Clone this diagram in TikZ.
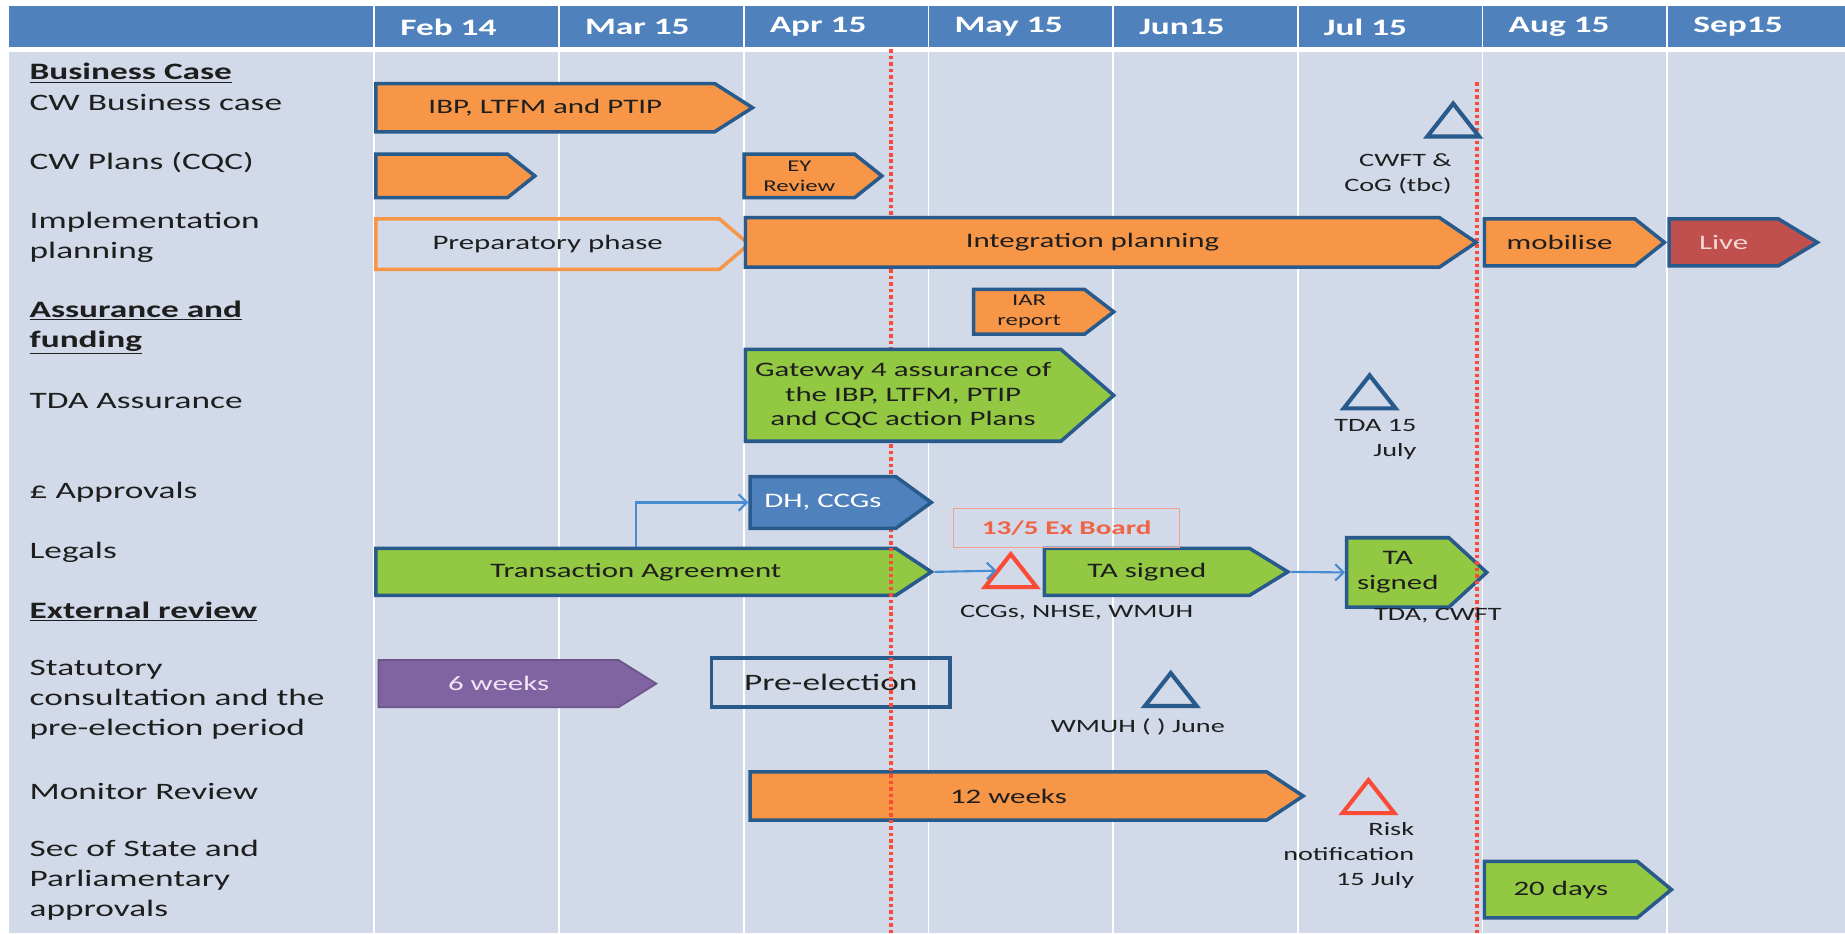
\documentclass[tikz,border=0pt]{standalone}
\usepackage{fontspec}
\setmainfont{Carlito}[FakeStretch=1.5]
\usetikzlibrary{shapes.symbols,arrows.meta}

\definecolor{hdrblue}{RGB}{79,129,189}
\definecolor{bodybg}{RGB}{210,217,232}
\definecolor{edgeblue}{RGB}{40,90,140}
\definecolor{barorange}{RGB}{247,150,70}
\definecolor{bargreen}{RGB}{146,200,66}
\definecolor{barblue}{RGB}{79,129,189}
\definecolor{barpurple}{RGB}{128,100,162}
\definecolor{barred}{RGB}{192,80,77}
\definecolor{linkblue}{RGB}{70,140,210}
\definecolor{dotred}{RGB}{250,75,55}
\definecolor{txt}{RGB}{30,30,30}

\tikzset{
  lbl/.style={anchor=west,align=left,text=txt,inner sep=0pt,font=\fontsize{20}{25.5}\selectfont},
  month/.style={anchor=west,text=white,inner sep=0pt,font=\bfseries\fontsize{20}{24}\selectfont},
  bar/.style={signal,signal to=east,signal pointer angle=70,draw=edgeblue,line width=3pt,
    anchor=west,inner sep=0pt,align=center,text=txt,font=\fontsize{17.5}{21}\selectfont},
  orangebar/.style={bar,fill=barorange},
  greenbar/.style={bar,fill=bargreen},
  small/.style={font=\fontsize{14}{17}\selectfont},
  note/.style={align=right,text=txt,inner sep=0pt,font=\fontsize{16}{21}\selectfont},
  link/.style={draw=linkblue,line width=1.8pt,-{Straight Barb[length=7pt,width=14pt]}},
  cutoff/.style={draw=dotred,line width=3.5pt,dash pattern=on 3pt off 2.5pt}
}

\begin{document}
\begin{tikzpicture}[x=1pt,y=-1pt]
\useasboundingbox (0,0) rectangle (1568,793);
\fill[white] (0,0) rectangle (1568,793);
\fill[hdrblue] (8,5) rectangle (1568,40);
\fill[bodybg] (8,44) rectangle (1568,793);
\foreach \i in {0,...,7}
  \draw[white,line width=1.5pt] ({318+157*\i},5) -- ({318+157*\i},793);

\def\months{1/{Feb 14},2/{Mar 15},3/{Apr 15},4/{May 15},5/{Jun15},6/{Jul 15},7/{Aug 15},8/{Sep15}}
\foreach \i / \m in \months
  \node[month] (h\i) at ({318+157*(\i-1)+22},23) {\m};

\def\rows{62/{\textbf{\underline{Business Case}}},87/{CW Business case},138/{CW Plans (CQC)},
  201.5/{Implementation\\planning},278.5/{\textbf{\underline{Assurance and}}\\\textbf{\underline{funding}}},
  341/{TDA Assurance},418/{£ Approvals},469/{Legals},520/{\textbf{\underline{External review}}},
  595/{Statutory\\consultation and the\\pre-election period},673/{Monitor  Review},
  748/{Sec of State and\\Parliamentary\\approvals}}
\foreach \y / \t [count=\i] in \rows
  \node[lbl] (r\i) at (25,\y) {\t};

\node[greenbar,minimum width=472pt,minimum height=40pt,signal pointer angle=67] (ta) at (318,486) {Transaction Agreement};
\node[greenbar,minimum width=207pt,minimum height=40pt,signal pointer angle=63] (tas) at (886,486) {TA signed};
\node[greenbar,minimum width=119pt,minimum height=59pt,signal pointer angle=85] (tas2) at (1143,486.5) {TA\\signed};
\node[draw=edgeblue,line width=3pt,minimum width=203pt,minimum height=42pt,anchor=west,inner sep=0pt,
  text=txt,font=\fontsize{20}{24}\selectfont] (pre) at (603,580) {Pre-election};
\node[orangebar,minimum width=470pt,minimum height=41pt,signal pointer angle=67] (twelve) at (636,676.5) {12 weeks};

\draw[cutoff] (757,42) -- (757,793);
\draw[cutoff] (1255,70) -- (1255,793);

\node[orangebar,minimum width=320pt,minimum height=41pt,signal pointer angle=65] (ibp) at (318,91.5) {IBP, LTFM and PTIP};
\node[orangebar,minimum width=135pt,minimum height=37pt,signal pointer angle=77] (cwp) at (318,149.5) {};
\node[orangebar,minimum width=117pt,minimum height=37pt,signal pointer angle=77,small] (ey) at (631,149.5) {EY\\Review};
\node[bar,draw=barorange,minimum width=317pt,minimum height=43pt,signal pointer angle=81] (prep) at (318,207.5) {Preparatory phase};
\node[orangebar,minimum width=621pt,minimum height=42pt,signal pointer angle=68] (integ) at (632,206) {Integration planning};
\node[orangebar,minimum width=153pt,minimum height=40pt,signal pointer angle=77] (mob) at (1260,206) {mobilise};
\node[bar,fill=barred,text={rgb,255:red,242;green,215;blue,214},minimum width=126pt,minimum height=40pt,signal pointer angle=62] (live) at (1417,206) {Live};
\node[orangebar,minimum width=119pt,minimum height=38pt,signal pointer angle=75,small] (iar) at (826,265) {IAR\\report};
\node[greenbar,minimum width=313pt,minimum height=78pt,signal pointer angle=82] (gw) at (632,336) {Gateway 4 assurance of\\the  IBP, LTFM,  PTIP\\and CQC action Plans};
\node[bar,fill=barblue,text=white,minimum width=154pt,minimum height=44pt,signal pointer angle=72] (dh) at (636,427) {DH, CCGs};
\node[bar,fill=barpurple,draw=barpurple!85!black,line width=1.5pt,text={rgb,255:red,240;green,228;blue,245},minimum width=236pt,minimum height=40pt,signal pointer angle=64] (sixw) at (321,581) {6  weeks};
\node[greenbar,minimum width=159pt,minimum height=48pt,signal pointer angle=79] (twenty) at (1260,756) {20 days};

\node[draw={rgb,255:red,244;green,160;blue,140},line width=1pt,minimum width=192pt,minimum height=33pt,anchor=west,
  text={rgb,255:red,240;green,100;blue,70},font=\bfseries\fontsize{16.5}{20}\selectfont] (exb) at (810,448.5) {13/5 Ex Board};

\def\miles{1235/102/edgeblue,1164/333/edgeblue,995/586/edgeblue,859/485/dotred,1163/677/dotred}
\foreach \x / \y / \c [count=\i] in \miles {
  \coordinate (m\i) at (\x,\y);
  \draw[draw=\c,line width=3.5pt,line join=miter] (m\i) ++(-22,14) -- ++(22,-28) -- ++(22,28) -- cycle;
}
\coordinate (riskin) at (847,485);

\node[note,anchor=east] (cwft) at (1234,148) {CWFT \&\\CoG (tbc)};
\node[note,anchor=east] (tda) at (1204,373.5) {TDA 15\\July};
\node[note] (ccgs) at (915,521) {CCGs, NHSE,  WMUH};
\node[note] (tdacw) at (1222,523) {TDA,  CWFT};
\node[note] (wmuh) at (967,618) {WMUH ( ) June};
\node[note,anchor=east] (riskn) at (1202,727) {Risk\\notification\\15 July};

\draw[link] (ta.north) |- (dh.west);
\draw[link] (ta.east) -- (riskin);
\draw[link] (tas.east) -- (tas2.west);

\end{tikzpicture}
\end{document}
